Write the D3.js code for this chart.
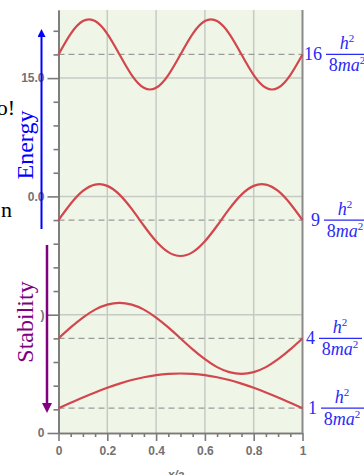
<!DOCTYPE html>
<html>
<head>
<meta charset="utf-8">
<script src="https://cdn.jsdelivr.net/npm/d3@7"></script>
<style>
  body { margin: 0; background: #fff; }
  svg { display: block; }
</style>
</head>
<body>
<svg id="chart"></svg>
<script>
// data (y in grid units, one unit = one major grid step)
var xSamples = [0, 0.05, 0.1, 0.15, 0.2, 0.25, 0.3, 0.35, 0.4, 0.45, 0.5,
                0.55, 0.6, 0.65, 0.7, 0.75, 0.8, 0.85, 0.9, 0.95, 1];
var psi1 = [0, 0.046, 0.091, 0.133, 0.172, 0.207, 0.238, 0.261, 0.279, 0.29, 0.293,
            0.29, 0.279, 0.261, 0.238, 0.207, 0.172, 0.133, 0.091, 0.046, 0];
var psi2 = [0, 0.093, 0.176, 0.243, 0.285, 0.3, 0.285, 0.243, 0.176, 0.093, 0,
            -0.093, -0.176, -0.243, -0.285, -0.3, -0.285, -0.243, -0.176, -0.093, 0];
var psi3 = [0, 0.138, 0.246, 0.3, 0.289, 0.215, 0.094, -0.048, -0.179, -0.271, -0.304,
            -0.271, -0.179, -0.048, 0.094, 0.215, 0.289, 0.3, 0.246, 0.138, 0];
var psi4 = [0, 0.174, 0.282, 0.282, 0.174, 0, -0.174, -0.282, -0.282, -0.174, 0,
            0.174, 0.282, 0.282, 0.174, 0, -0.174, -0.282, -0.282, -0.174, 0];
var levelValues = [0.21, 0.8, 1.8, 3.2];      // dashed energy levels n=1..4
var levelFactors = ["1", "4", "9", "16"];
var yMajorTicks = [0, 1, 2, 3];
var yMajorLabels = ["0", ")", "0.0", "15.0"];
var yMinorTicks = [0.2, 0.4, 0.6, 0.8, 1.2, 1.4, 1.6, 1.8, 2.2, 2.4, 2.6, 2.8, 3.2, 3.4];
var xMajorTicks = [0, 0.2, 0.4, 0.6, 0.8, 1];
var xMajorLabels = ["0", "0.2", "0.4", "0.6", "0.8", "1"];
var xMinorTicks = [0.05, 0.1, 0.15, 0.25, 0.3, 0.35, 0.45, 0.5, 0.55, 0.65, 0.7, 0.75, 0.85, 0.9, 0.95];

var W = 364, H = 475;
var plotTop = 10, plotBottom = 433, plotLeft = 58.5, plotRight = 302.5;

var svg = d3.select("#chart").attr("width", W).attr("height", H);

var x = d3.scaleLinear().domain([0, 1]).range([plotLeft, plotRight]);
var y = d3.scaleLinear().domain([0, (plotBottom - plotTop) / 118.3]).range([plotBottom, plotTop]);

// plot background
svg.append("rect")
  .attr("x", plotLeft).attr("y", plotTop)
  .attr("width", plotRight - plotLeft).attr("height", plotBottom - plotTop)
  .attr("fill", "#f0f6e7");

// grid
svg.append("g").selectAll("line")
  .data(xMajorTicks.slice(1, -1))
  .enter().append("line")
    .attr("x1", d => x(d)).attr("x2", d => x(d))
    .attr("y1", plotTop).attr("y2", plotBottom)
    .attr("stroke", "#c6cac4").attr("stroke-width", 1.5);

svg.append("g").selectAll("line")
  .data(yMajorTicks.slice(1))
  .enter().append("line")
    .attr("x1", plotLeft).attr("x2", plotRight)
    .attr("y1", d => y(d)).attr("y2", d => y(d))
    .attr("stroke", "#c6cac4").attr("stroke-width", 1.5);

// dashed levels
svg.append("g").selectAll("line")
  .data(levelValues)
  .enter().append("line")
    .attr("x1", plotLeft).attr("x2", plotRight)
    .attr("y1", d => y(d)).attr("y2", d => y(d))
    .attr("stroke", "#9a9a9a").attr("stroke-width", 1.3)
    .attr("stroke-dasharray", "6,4");

// axes
function styleAxis(g) {
  g.selectAll("path, line").attr("stroke", "#7a7a7a").attr("stroke-width", 1.6);
  g.selectAll("text").attr("fill", "#727272")
    .attr("font-family", "Liberation Sans, Arial, sans-serif")
    .attr("font-size", "12px").attr("font-weight", "bold");
}

svg.append("g")
  .attr("transform", "translate(" + plotLeft + ",0)")
  .call(d3.axisLeft(y).tickValues(yMinorTicks).tickSize(5).tickSizeOuter(0).tickFormat(""))
  .call(styleAxis);

svg.append("g")
  .attr("transform", "translate(" + plotLeft + ",0)")
  .call(d3.axisLeft(y).tickValues(yMajorTicks).tickSize(11).tickPadding(3).tickSizeOuter(0)
    .tickFormat((d, i) => yMajorLabels[i]))
  .call(styleAxis);

svg.append("g")
  .attr("transform", "translate(0," + plotBottom + ")")
  .call(d3.axisBottom(x).tickValues(xMinorTicks).tickSize(4).tickSizeOuter(0).tickFormat(""))
  .call(styleAxis);

svg.append("g")
  .attr("transform", "translate(0," + plotBottom + ")")
  .call(d3.axisBottom(x).tickValues(xMajorTicks).tickSize(8).tickPadding(5).tickSizeOuter(0)
    .tickFormat((d, i) => xMajorLabels[i]))
  .call(styleAxis);

// right border
svg.append("line")
  .attr("x1", x(1)).attr("x2", x(1))
  .attr("y1", plotTop).attr("y2", plotBottom)
  .attr("stroke", "#8a8a8a").attr("stroke-width", 2);

svg.append("text")
  .attr("x", 176).attr("y", 479)
  .attr("text-anchor", "middle")
  .attr("font-family", "Liberation Sans, Arial, sans-serif")
  .attr("font-size", "12px").attr("font-style", "italic").attr("font-weight", "bold")
  .attr("fill", "#727272")
  .text("x/a");

// wave functions
var waves = [psi1, psi2, psi3, psi4];
var line = d3.line().curve(d3.curveNatural);

svg.append("g").selectAll("path")
  .data(waves)
  .enter().append("path")
    .attr("d", (w, i) => line(w.map((v, j) => [x(xSamples[j]), y(levelValues[i] + v)])))
    .attr("fill", "none")
    .attr("stroke", "#d2474d")
    .attr("stroke-width", 2.2);

// energy labels on the right
var numEnd = [317, 315, 320, 322];
var blue = "#2a2af5";
var labels = svg.append("g").selectAll("g")
  .data(levelFactors)
  .enter().append("g")
    .attr("transform", (d, i) => "translate(" + numEnd[i] + "," + y(levelValues[i]) + ")")
    .attr("font-family", "Liberation Serif, Times New Roman, serif")
    .attr("fill", blue);

labels.append("text")
  .attr("text-anchor", "end")
  .attr("y", 6)
  .attr("font-size", "18px")
  .text(d => d);

var h2 = labels.append("text")
  .attr("x", 25).attr("y", -5)
  .attr("text-anchor", "middle")
  .attr("font-size", "18px");
h2.append("tspan").attr("font-style", "italic").text("h");
h2.append("tspan").attr("font-size", "11px").attr("dy", -7).text("2");

labels.append("line")
  .attr("x1", 4).attr("x2", 47)
  .attr("y1", 0).attr("y2", 0)
  .attr("stroke", blue).attr("stroke-width", 1.2);

var den = labels.append("text")
  .attr("x", 25).attr("y", 17)
  .attr("text-anchor", "middle")
  .attr("font-size", "18px");
den.append("tspan").text("8");
den.append("tspan").attr("font-style", "italic").text("ma");
den.append("tspan").attr("font-size", "11px").attr("dy", -7).text("2");

// arrows
var defs = svg.append("defs");
defs.append("marker").attr("id", "headBlue")
  .attr("viewBox", "0 0 10 10").attr("refX", 5).attr("refY", 5)
  .attr("markerWidth", 4).attr("markerHeight", 4).attr("orient", "auto")
  .append("path").attr("d", "M0,0L10,5L0,10z").attr("fill", "#0000ff");
defs.append("marker").attr("id", "headPurple")
  .attr("viewBox", "0 0 10 10").attr("refX", 5).attr("refY", 5)
  .attr("markerWidth", 4).attr("markerHeight", 4).attr("orient", "auto")
  .append("path").attr("d", "M0,0L10,5L0,10z").attr("fill", "#800080");

svg.append("line")
  .attr("x1", 41.5).attr("x2", 41.5).attr("y1", 229).attr("y2", 33)
  .attr("stroke", "#0000ff").attr("stroke-width", 2)
  .attr("marker-end", "url(#headBlue)");

svg.append("line")
  .attr("x1", 47).attr("x2", 47).attr("y1", 245).attr("y2", 408)
  .attr("stroke", "#800080").attr("stroke-width", 2.5)
  .attr("marker-end", "url(#headPurple)");

svg.append("text")
  .attr("transform", "translate(33,145) rotate(-90)")
  .attr("text-anchor", "middle")
  .attr("font-family", "Liberation Serif, Times New Roman, serif")
  .attr("font-size", "24px").attr("fill", "#0000ff")
  .text("Energy");

svg.append("text")
  .attr("transform", "translate(33,322) rotate(-90)")
  .attr("text-anchor", "middle")
  .attr("font-family", "Liberation Serif, Times New Roman, serif")
  .attr("font-size", "24px").attr("fill", "#800080")
  .text("Stability");

// clipped text from the surrounding page
svg.append("text")
  .attr("x", 15).attr("y", 115)
  .attr("text-anchor", "end")
  .attr("font-family", "Liberation Serif, Times New Roman, serif")
  .attr("font-size", "22px").attr("fill", "#000")
  .text("o!");

svg.append("text")
  .attr("x", 12).attr("y", 217)
  .attr("text-anchor", "end")
  .attr("font-family", "Liberation Serif, Times New Roman, serif")
  .attr("font-size", "22px").attr("fill", "#000")
  .text("n");
</script>
</body>
</html>
